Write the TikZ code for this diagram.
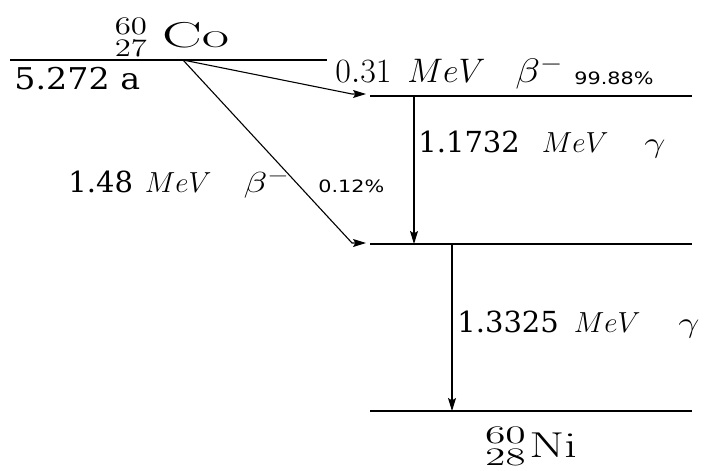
\RequirePackage{fix-cm}
\documentclass[tikz,border=0pt]{standalone}
\usepackage[no-math]{fontspec}
\usepackage{graphicx}
\setmainfont{DejaVu Serif}
\newfontfamily\pctfont{DejaVu Sans}
\usetikzlibrary{arrows.meta}

% horizontal stretch of a piece of text
\newcommand{\sx}[2]{\scalebox{#1}[1]{#2}}

\tikzset{
  level/.style={line width=1.2pt},
  trans/.style={line width=0.55pt,-{Stealth[length=6.5pt,width=4pt,inset=1.2pt]}},
  lbl/.style={anchor=base west,inner sep=0pt,font=\fontsize{14.5}{17}\selectfont},
  nucl/.style={anchor=base,inner sep=0pt,font=\fontsize{18}{21}\selectfont},
  pct/.style={anchor=base west,inner sep=0pt,font=\pctfont\fontsize{8.5}{10}\selectfont}
}

\begin{document}
\begin{tikzpicture}[x=0.5pt,y=-0.5pt]
    \useasboundingbox (0,0) rectangle (704,470);

    % energy levels
    \coordinate (coL) at (10,60);
    \coordinate (coR) at (327,60);
    \coordinate (lvA) at (370,96);
    \coordinate (lvAr) at (692,96);
    \coordinate (lvB) at (370,244);
    \coordinate (lvBr) at (692,244);
    \coordinate (niL) at (370,411);
    \coordinate (niR) at (692,411);
    \draw[level] (coL) -- (coR);
    \draw[level] (lvA) -- (lvAr);
    \draw[level] (lvB) -- (lvBr);
    \draw[level] (niL) -- (niR);

    % nuclei
    \node[nucl] (co) at (172,48) {\sx{1.3}{$^{60}_{27}$}\hspace{7pt}\sx{1.65}{$\mathrm{Co}$}};
    \node[nucl] (ni) at (531,457) {\sx{1.65}{$^{60}_{28}$}\hspace{1pt}\sx{1.4}{$\mathrm{Ni}$}};
    \node[lbl,font=\fontsize{15}{18}\selectfont] (life) at (14,90) {\sx{1.11}{5.272 a}};

    % beta decays
    \coordinate (src) at (183,60);
    \coordinate (endAb) at (352,94);
    \coordinate (endA) at (366,94);
    \coordinate (endBb) at (352,243);
    \coordinate (endB) at (366,243);
    \draw[trans] (src) -- (endAb) -- (endA);
    \draw[trans] (src) -- (endBb) -- (endB);
    \node[lbl,font=\fontsize{17}{20}\selectfont] (betaA) at (335,83)
        {$0.31$\hspace{8pt}$MeV$\hspace{15pt}\sx{1.2}{$\beta^-$}};
    \node[pct] (pctA) at (574,85) {\sx{1.22}{99.88\%}};
    \node[lbl] (betaB) at (68,192)
        {1.48\hspace{6pt}$MeV$\hspace{16pt}\sx{1.35}{$\beta^-$}};
    \node[pct] (pctB) at (318,192) {\sx{1.22}{0.12\%}};

    % gamma transitions
    \coordinate (gA1) at (414,96);
    \coordinate (gA2) at (414,244);
    \coordinate (gB1) at (452,244);
    \coordinate (gB2) at (452,411);
    \draw[trans] (gA1) -- (gA2);
    \draw[trans] (gB1) -- (gB2);
    \node[lbl] (gamA) at (418,152)
        {1.1732\hspace{11pt}$MeV$\hspace{18pt}\sx{1.3}{$\gamma$}};
    \node[lbl] (gamB) at (457,332)
        {1.3325\hspace{7.5pt}$MeV$\hspace{19pt}\sx{1.3}{$\gamma$}};
\end{tikzpicture}
\end{document}
